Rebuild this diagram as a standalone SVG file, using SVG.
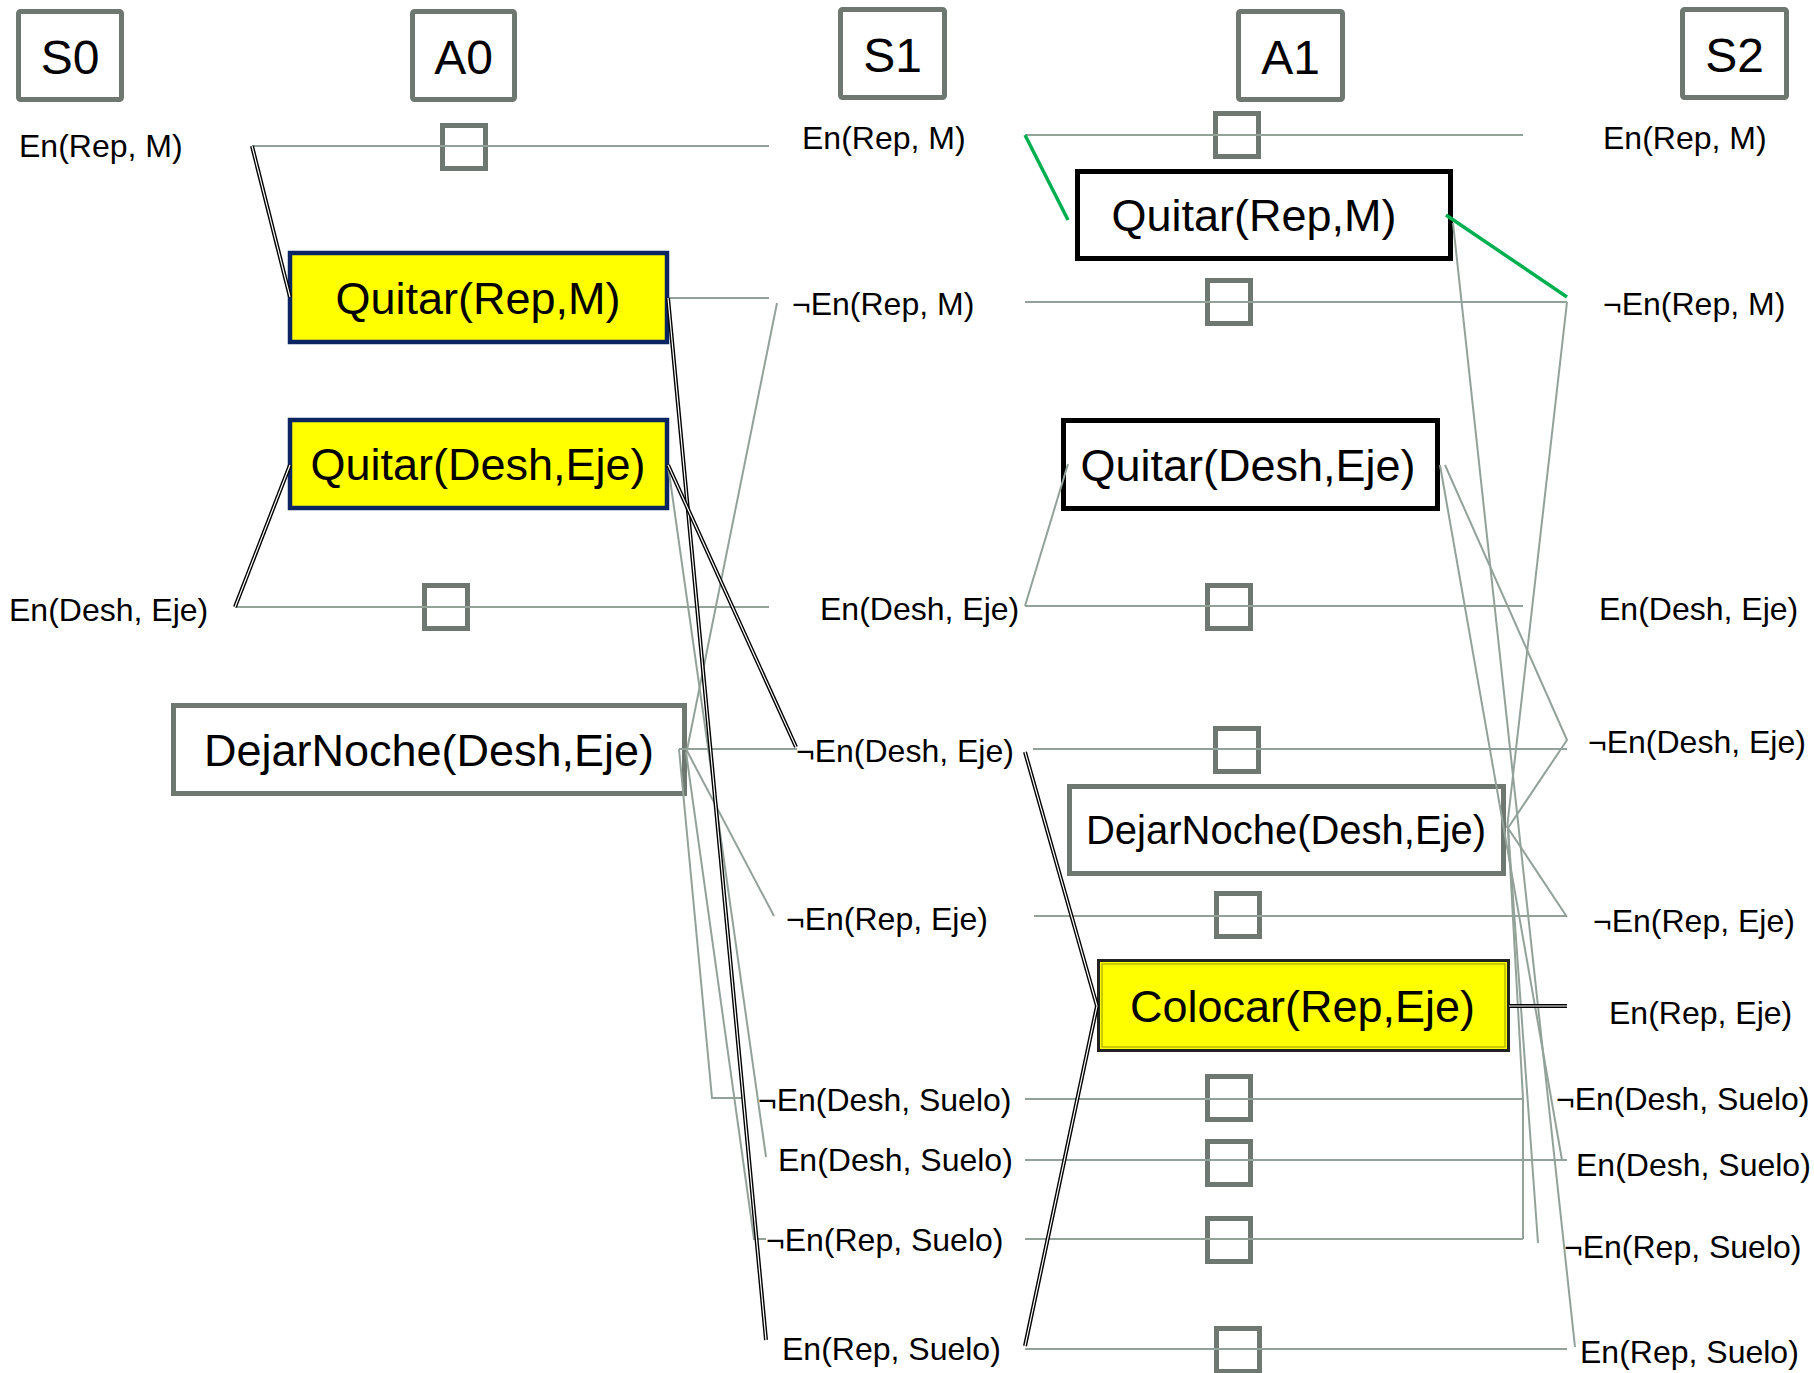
<svg xmlns="http://www.w3.org/2000/svg" xmlns:xlink="http://www.w3.org/1999/xlink" width="1814" height="1373" viewBox="0 0 1814 1373">
<style>
.hdr{fill:#fff;stroke:#6e7870;stroke-width:5}
.sq{fill:none;stroke:#6e7870;stroke-width:5}
.act{fill:#ffff00;stroke:#0b2462;stroke-width:4.5}
.blkbox{fill:#fff;stroke:#000;stroke-width:5}
.grybox{fill:#fff;stroke:#6e7870;stroke-width:5}
.t{font-family:"Liberation Sans",Arial,sans-serif;fill:#000}
.h{font-size:48px;text-anchor:middle}
.big{font-size:45px;text-anchor:middle}
.lbl{font-size:32px}
.g{fill:none;stroke:#93a298;stroke-width:2}
.bo{fill:none;stroke:#000;stroke-width:4}
.bi{fill:none;stroke:#fff;stroke-width:1.2}
.gr{fill:none;stroke:#00b050;stroke-width:3.5}
</style>
<defs>
<path id="b1" d="M252,146 L290,297"/>
<path id="b2" d="M235,607 L290,465"/>
<path id="b3" d="M668,298 L766,1340"/>
<path id="b4" d="M668,465 L796,747"/>
<path id="b5" d="M1025,752 L1097,1006"/>
<path id="b6" d="M1025,1346 L1097,1006"/>
<path id="b7" d="M1509,1006 L1567,1006"/>
</defs>
<rect width="1814" height="1373" fill="#fff"/>

<g id="header-S0"><rect class="hdr" x="18.5" y="11.5" width="103" height="88" rx="2"/><text class="t h" x="70" y="74">S0</text></g>
<g id="header-A0"><rect class="hdr" x="412.5" y="11.5" width="102" height="88" rx="2"/><text class="t h" x="463.5" y="74">A0</text></g>
<g id="header-S1"><rect class="hdr" x="840.5" y="9.5" width="104" height="88" rx="2"/><text class="t h" x="892.5" y="72">S1</text></g>
<g id="header-A1"><rect class="hdr" x="1238.5" y="11.5" width="104" height="88" rx="2"/><text class="t h" x="1290.5" y="74">A1</text></g>
<g id="header-S2"><rect class="hdr" x="1682.5" y="9.5" width="104" height="88" rx="2"/><text class="t h" x="1734.5" y="72">S2</text></g>

<g id="a0-quitar-rep-m"><rect class="act" x="290" y="253" width="377" height="89"/><text class="t big" x="478" y="314">Quitar(Rep,M)</text></g>
<g id="a0-quitar-desh-eje"><rect class="act" x="290" y="420" width="377" height="88"/><text class="t big" x="478" y="480">Quitar(Desh,Eje)</text></g>
<g id="a0-dejarnoche"><rect class="grybox" x="173.5" y="705.5" width="511" height="88"/><text class="t big" x="429" y="766" style="font-size:45px">DejarNoche(Desh,Eje)</text></g>

<g id="a1-quitar-rep-m"><rect class="blkbox" x="1077.5" y="171.5" width="373" height="87"/><text class="t big" x="1254" y="231">Quitar(Rep,M)</text></g>
<g id="a1-quitar-desh-eje"><rect class="blkbox" x="1063.5" y="420.5" width="374" height="88"/><text class="t big" x="1248" y="481">Quitar(Desh,Eje)</text></g>
<g id="a1-dejarnoche"><rect class="grybox" x="1069.5" y="786.5" width="434" height="87"/><text class="t big" x="1286" y="844" style="font-size:40px">DejarNoche(Desh,Eje)</text></g>
<g id="a1-colocar"><rect x="1098.5" y="960.5" width="410" height="90" fill="#ffff00" stroke="#222" stroke-width="3"/><rect x="1102" y="964" width="403" height="83" fill="none" stroke="#a8a800" stroke-width="1.2"/><text class="t big" x="1302.5" y="1022">Colocar(Rep,Eje)</text></g>

<g id="s0-labels">
<text class="t lbl" x="19" y="157">En(Rep, M)</text>
<text class="t lbl" x="9" y="621">En(Desh, Eje)</text>
</g>
<g id="s1-labels">
<text class="t lbl" x="802" y="149">En(Rep, M)</text>
<text class="t lbl" x="792" y="315">¬En(Rep, M)</text>
<text class="t lbl" x="820" y="620">En(Desh, Eje)</text>
<text class="t lbl" x="796" y="762">¬En(Desh, Eje)</text>
<text class="t lbl" x="786" y="930">¬En(Rep, Eje)</text>
<text class="t lbl" x="758" y="1111">¬En(Desh, Suelo)</text>
<text class="t lbl" x="778" y="1171">En(Desh, Suelo)</text>
<text class="t lbl" x="766" y="1251">¬En(Rep, Suelo)</text>
<text class="t lbl" x="782" y="1360">En(Rep, Suelo)</text>
</g>
<g id="s2-labels">
<text class="t lbl" x="1603" y="149">En(Rep, M)</text>
<text class="t lbl" x="1603" y="315">¬En(Rep, M)</text>
<text class="t lbl" x="1599" y="620">En(Desh, Eje)</text>
<text class="t lbl" x="1588" y="753">¬En(Desh, Eje)</text>
<text class="t lbl" x="1593" y="932">¬En(Rep, Eje)</text>
<text class="t lbl" x="1609" y="1024">En(Rep, Eje)</text>
<text class="t lbl" x="1556" y="1110">¬En(Desh, Suelo)</text>
<text class="t lbl" x="1576" y="1176">En(Desh, Suelo)</text>
<text class="t lbl" x="1564" y="1258">¬En(Rep, Suelo)</text>
<text class="t lbl" x="1580" y="1363">En(Rep, Suelo)</text>
</g>

<g id="noops">
<rect class="sq" x="442.5" y="125.5" width="43" height="43"/>
<rect class="sq" x="424.5" y="585.5" width="43" height="43"/>
<rect class="sq" x="1215.5" y="113.5" width="43" height="43"/>
<rect class="sq" x="1207.5" y="280.5" width="43" height="43"/>
<rect class="sq" x="1207.5" y="585.5" width="43" height="43"/>
<rect class="sq" x="1215.5" y="728.5" width="43" height="43"/>
<rect class="sq" x="1216.5" y="893.5" width="43" height="43"/>
<rect class="sq" x="1207.5" y="1076.5" width="43" height="43"/>
<rect class="sq" x="1207.5" y="1141.5" width="43" height="43"/>
<rect class="sq" x="1207.5" y="1218.5" width="43" height="43"/>
<rect class="sq" x="1216.5" y="1328.5" width="43" height="43"/>
</g>

<g id="connectors">
<path class="g" d="M252,146 H769"/>
<path class="g" d="M235,607 H769"/>
<path class="g" d="M669,298 H769"/>
<path class="g" d="M679,749 H797"/>
<path class="g" d="M777,303 L687,750"/>
<path class="g" d="M686,749 L774,916"/>
<path class="g" d="M679,749 L712,1098 H745"/>
<path class="g" d="M686,752 L754,1239 H766"/>
<path class="g" d="M668,465 L766,1157"/>
<path class="g" d="M1025,135 H1523"/>
<path class="g" d="M1025,302 H1567"/>
<path class="g" d="M1025,606 L1068,464"/>
<path class="g" d="M1025,606 H1523"/>
<path class="g" d="M1033,749 H1567"/>
<path class="g" d="M1034,916 H1567"/>
<path class="g" d="M1025,1099 H1523"/>
<path class="g" d="M1025,1160 H1567"/>
<path class="g" d="M1025,1239 H1523"/>
<path class="g" d="M1025,1349 H1567"/>
<path class="g" d="M1567,302 L1507,828"/>
<path class="g" d="M1453,223 L1575,1347"/>
<path class="g" d="M1440,465 L1562,1160"/>
<path class="g" d="M1445,465 L1567,740 L1508,828 L1567,917"/>
<path class="g" d="M1508,828 L1523,1099 V1239"/>
<path class="g" d="M1508,828 L1538,1243"/>
<path class="gr" d="M1025,135 L1068,220"/>
<path class="gr" d="M1446,215 L1567,297"/>
<use xlink:href="#b1" class="bo"/><use xlink:href="#b1" class="bi"/>
<use xlink:href="#b2" class="bo"/><use xlink:href="#b2" class="bi"/>
<use xlink:href="#b3" class="bo"/><use xlink:href="#b3" class="bi"/>
<use xlink:href="#b4" class="bo"/><use xlink:href="#b4" class="bi"/>
<use xlink:href="#b5" class="bo"/><use xlink:href="#b5" class="bi"/>
<use xlink:href="#b6" class="bo"/><use xlink:href="#b6" class="bi"/>
<use xlink:href="#b7" class="bo"/><use xlink:href="#b7" class="bi"/>
</g>
</svg>
